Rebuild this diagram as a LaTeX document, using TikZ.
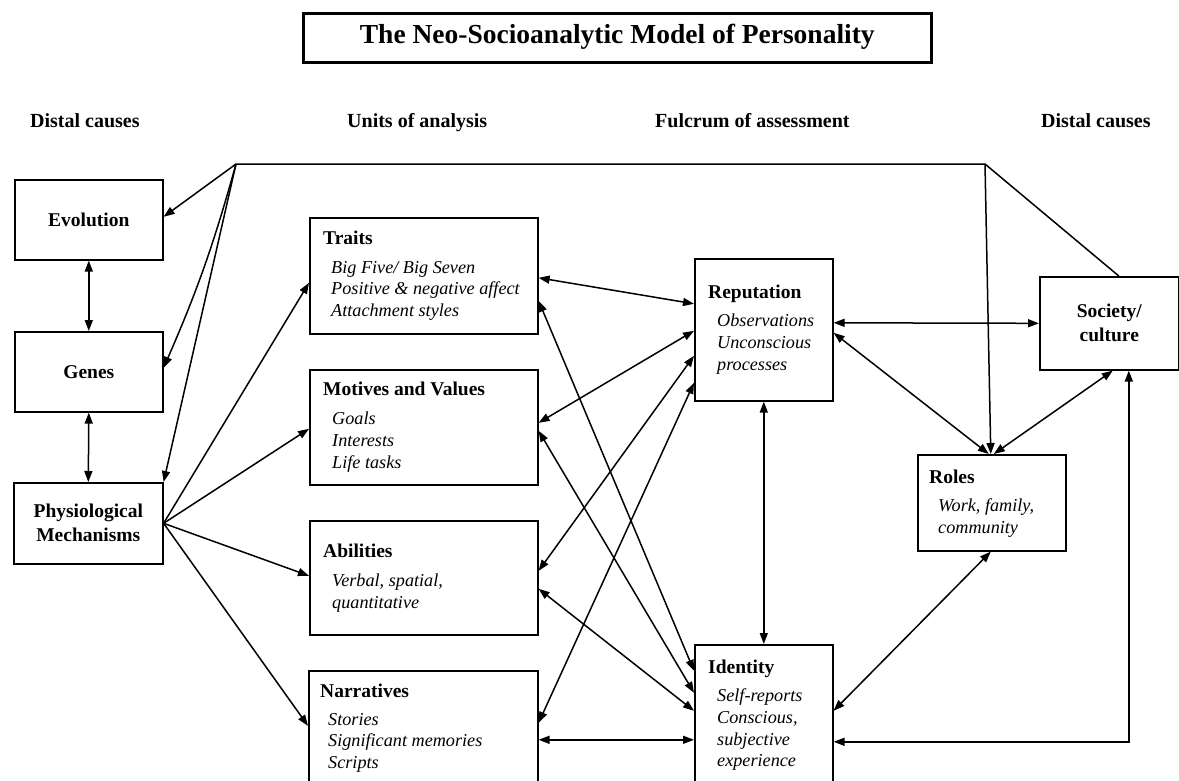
\documentclass[tikz,border=0pt]{standalone}
\usepackage{fontspec}
\setmainfont{Liberation Serif}
\usetikzlibrary{positioning,arrows.meta,calc}

\begin{document}
\begin{tikzpicture}[x=1pt,y=-1pt,
  box/.style={draw,line width=1.6pt,inner sep=0pt,anchor=north west},
  cbox/.style={box,align=center,font=\fontsize{19.5}{24}\selectfont\bfseries},
  hd/.style={font=\fontsize{19.5}{22}\selectfont\bfseries,anchor=base west,inner sep=0pt},
  itm/.style={font=\fontsize{18.2}{21.7}\selectfont\itshape,align=left,anchor=north west,inner sep=0pt,execute at begin node=\strut},
  colhead/.style={font=\fontsize{20}{24}\selectfont\bfseries,anchor=base west,inner sep=0pt},
  arr/.style={line width=1.5pt,-{Triangle[length=11pt,width=8pt]}},
  darr/.style={line width=1.5pt,{Triangle[length=11pt,width=8pt]}-{Triangle[length=11pt,width=8pt]}}]
  \useasboundingbox (0,0) rectangle (1179,780);
  % title and column heads
  \node[draw,line width=2.6pt,minimum width=628,minimum height=49,anchor=north west,
        font=\fontsize{27.5}{30}\selectfont\bfseries,text height=18,text depth=6] (title) at (302,12)
        {The Neo-Socioanalytic Model of Personality};
  \node[colhead] (distL) at (30,127) {Distal causes};
  \node[colhead] (units) at (347,127) {Units of analysis};
  \node[colhead] (fulcrum) at (655,127) {Fulcrum of assessment};
  \node[colhead] (distR) at (1041,127) {Distal causes};
  % distal causes
  \node[cbox,minimum width=148,minimum height=80] (evo) at (14,179) {Evolution};
  \node[cbox,minimum width=148,minimum height=80] (genes) at (14,331) {Genes};
  \node[cbox,minimum width=149,minimum height=81] (physio) at (13,482) {Physiological\\Mechanisms};
  % units of analysis
  \node[box,minimum width=228,minimum height=116] (traits) at (309,217) {};
  \node[hd] (traitsH) at ([shift={(14,27)}]traits.north west) {Traits};
  \node[itm] (traitsI) at ([shift={(22,43.8)}]traits.north west) {Big Five/ Big Seven\\Positive \& negative affect\\Attachment styles};
  \node[box,minimum width=228,minimum height=115] (motives) at (309,369) {};
  \node[hd] (motivesH) at ([shift={(14,26)}]motives.north west) {Motives and Values};
  \node[itm] (motivesI) at ([shift={(23,42.8)}]motives.north west) {Goals\\Interests\\Life tasks};
  \node[box,minimum width=228,minimum height=114] (abil) at (309,520) {};
  \node[hd] (abilH) at ([shift={(14,37)}]abil.north west) {Abilities};
  \node[itm] (abilI) at ([shift={(23,53.8)}]abil.north west) {Verbal, spatial,\\quantitative};
  \node[box,minimum width=229,minimum height=115] (narr) at (308,670) {};
  \node[hd] (narrH) at ([shift={(12,27)}]narr.north west) {Narratives};
  \node[itm] (narrI) at ([shift={(20,42.8)}]narr.north west) {Stories\\Significant memories\\Scripts};
  % fulcrum of assessment
  \node[box,minimum width=138,minimum height=142] (rep) at (694,258) {};
  \node[hd] (repH) at ([shift={(14,40)}]rep.north west) {Reputation};
  \node[itm] (repI) at ([shift={(23,55.8)}]rep.north west) {Observations\\Unconscious\\processes};
  \node[box,minimum width=138,minimum height=141] (ident) at (694,644) {};
  \node[hd] (identH) at ([shift={(14,29)}]ident.north west) {Identity};
  \node[itm] (identI) at ([shift={(23,44.8)}]ident.north west) {Self-reports\\Conscious,\\subjective\\experience};
  % right side
  \node[cbox,minimum width=139,minimum height=93] (society) at (1039,276) {Society/\\culture};
  \node[box,minimum width=148,minimum height=96] (roles) at (917,454) {};
  \node[hd] (rolesH) at ([shift={(12,29)}]roles.north west) {Roles};
  \node[itm] (rolesI) at ([shift={(21,44.8)}]roles.north west) {Work, family,\\community};
  % connectors
  \coordinate (hub) at (236,164);
  \coordinate (corner) at (985,164);
  \draw[line width=1.5pt] ([shift={(9.5,0)}]society.north) -- (corner) -- (hub);
  \draw[arr] (corner) -- ([shift={(-1,0)}]roles.north);
  \draw[arr] (hub) -- ([shift={(0,-3)}]evo.east);
  \draw[arr] (hub) to[bend left=4] ([shift={(0,-4)}]genes.east);
  \draw[arr] (hub) -- (physio.north east);
  \draw[darr] (evo.south) -- (genes.north);
  \draw[darr] (genes.south) -- (physio.north);
  \foreach \t/\v in {traits/7,motives/1.5,abil/-2,narr/-2.5}
     {\draw[arr] (physio.east) -- ([shift={(0,\v)}]\t.west);}
  \foreach \s/\u/\t/\v in {traits/2/rep/-26,traits/25/ident/-44.5,motives/-4.5/rep/1,motives/3.5/ident/-22.5,
                           abil/-7/rep/26,abil/11/ident/-4.5,narr/-5.5/rep/53,narr/11.5/ident/24.5}
     {\draw[darr] ([shift={(0,\u)}]\s.east) -- ([shift={(0,\v)}]\t.west);}
  \draw[darr] (rep.south) -- (ident.north);
  \draw[darr] ([shift={(0,-7)}]rep.east) -- (society.west);
  \draw[darr] ([shift={(0,3)}]rep.east) -- ([shift={(-3,0)}]roles.north);
  \draw[darr] ([shift={(2,0)}]roles.north) -- ([shift={(3.5,0)}]society.south);
  \draw[darr] ([shift={(-1,0)}]roles.south) -- ([shift={(0,-4.5)}]ident.east);
  \draw[darr] ([shift={(19.5,0)}]society.south) |- ([shift={(0,26.5)}]ident.east);
\end{tikzpicture}
\end{document}
